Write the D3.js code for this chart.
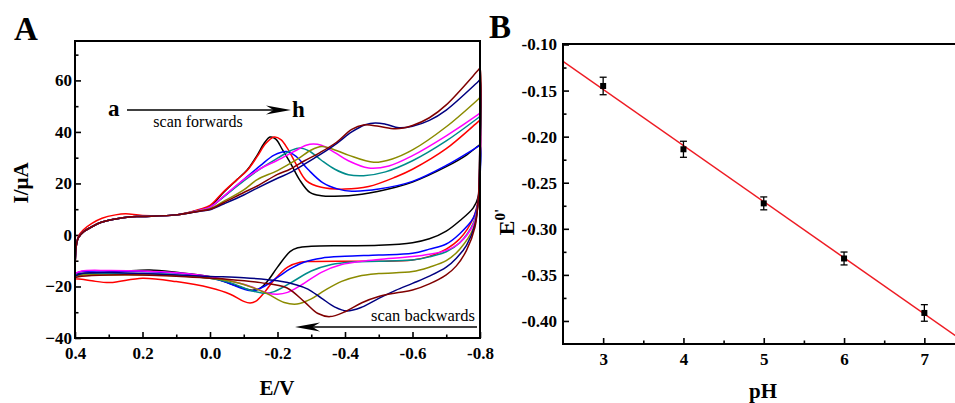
<!DOCTYPE html>
<html>
<head>
<meta charset="utf-8">
<script src="https://cdn.jsdelivr.net/npm/d3@7"></script>
<style>
  body { margin: 0; background: #fff; }
  svg { display: block; font-family: "Liberation Serif", "Times New Roman", serif; }
</style>
</head>
<body>
<script>
// ---- panel A: cyclic voltammograms a..h, each as [E (V), I (uA)] pairs ----
var curveNames = ["a", "b", "c", "d", "e", "f", "g", "h"];
var curveColors = ["#000000", "#ff0000", "#0000ff", "#008b8b", "#ff00ff", "#8b8b00", "#000080", "#800000"];

// forward scan (0.4 -> -0.8)
var fwdA = [[0.4,-15],[0.399,-9],[0.396,-4],[0.39,-1],[0.375,1.2],[0.35,3.2],[0.32,5],[0.28,6.2],[0.24,7],[0.2,7.2],[0.1,7.8],[0.03,9.8],[0.0,11],[-0.04,16.5],[-0.08,21.5],[-0.11,25.2],[-0.14,31],[-0.16,35.5],[-0.178,38],[-0.195,37.2],[-0.215,33],[-0.24,27.5],[-0.265,21.5],[-0.296,16.5],[-0.33,15.2],[-0.37,15],[-0.45,15.8],[-0.55,18.5],[-0.6,20.5],[-0.7,26.5],[-0.76,31],[-0.795,34.6],[-0.8,35]];
var fwdB = [[0.4,-17],[0.399,-10],[0.396,-4],[0.39,-0.5],[0.375,2],[0.35,4.5],[0.32,6.5],[0.28,7.8],[0.25,8.2],[0.2,7.6],[0.1,7.8],[0.03,10],[0.0,11.5],[-0.04,16.8],[-0.08,21.5],[-0.11,25],[-0.14,30.5],[-0.165,35.5],[-0.19,38],[-0.21,37],[-0.23,33.5],[-0.255,27.5],[-0.286,21],[-0.33,18.5],[-0.4,17.8],[-0.47,18.8],[-0.55,22.5],[-0.6,25.5],[-0.7,33.5],[-0.795,44],[-0.8,44.5]];
var fwdC = [[0.4,-15],[0.399,-9],[0.396,-4],[0.39,-1],[0.375,1.2],[0.35,3.2],[0.32,5],[0.28,6.2],[0.24,7],[0.2,7.2],[0.1,7.8],[0.03,9.6],[0.0,10.8],[-0.04,14.8],[-0.1,21.5],[-0.15,27],[-0.19,31],[-0.227,32.4],[-0.255,30.5],[-0.29,25.5],[-0.335,20.2],[-0.38,17.8],[-0.42,17],[-0.5,17.8],[-0.6,20.8],[-0.7,27],[-0.795,34.4],[-0.8,34.8]];
var fwdD = [[0.4,-15.5],[0.399,-9],[0.396,-4],[0.39,-1],[0.375,1.2],[0.35,3.2],[0.32,5],[0.28,6.2],[0.24,7],[0.2,7.2],[0.1,7.8],[0.03,9.6],[0.0,10.8],[-0.04,14.8],[-0.1,21],[-0.15,25.8],[-0.2,29.8],[-0.24,32.8],[-0.267,33.8],[-0.295,32.5],[-0.33,29],[-0.37,25.5],[-0.41,23.4],[-0.455,23],[-0.52,24.5],[-0.6,28.8],[-0.7,36.5],[-0.795,45.5],[-0.8,46]];
var fwdE = [[0.4,-15],[0.399,-9],[0.396,-4],[0.39,-1],[0.375,1.2],[0.35,3.2],[0.32,5],[0.28,6.2],[0.24,7],[0.2,7.2],[0.1,7.8],[0.03,9.6],[0.0,10.8],[-0.04,15],[-0.1,21.5],[-0.15,25.8],[-0.2,29],[-0.25,32.5],[-0.285,34.8],[-0.306,35.3],[-0.33,34.8],[-0.37,32],[-0.41,28.8],[-0.47,26],[-0.53,26.8],[-0.6,30.8],[-0.7,38.5],[-0.795,46.8],[-0.8,47.3]];
var fwdF = [[0.4,-16],[0.399,-9],[0.396,-4],[0.39,-1],[0.375,1.2],[0.35,3.2],[0.32,5],[0.28,6.2],[0.24,7],[0.2,7.2],[0.1,7.8],[0.03,9.4],[0.0,10.2],[-0.04,13],[-0.1,17.5],[-0.14,21.5],[-0.2,25],[-0.26,29.5],[-0.3,33],[-0.331,34.3],[-0.36,33.5],[-0.41,31],[-0.485,28.2],[-0.54,29.5],[-0.6,33],[-0.7,42],[-0.795,52.7],[-0.8,53.3]];
var fwdG = [[0.4,-16],[0.399,-9],[0.396,-4],[0.39,-1],[0.375,1.2],[0.35,3.2],[0.32,5],[0.28,6.2],[0.24,7],[0.2,7.2],[0.1,7.8],[0.03,9.2],[0.0,9.8],[-0.04,12],[-0.1,15.5],[-0.14,18.2],[-0.2,22],[-0.237,24.2],[-0.28,27.5],[-0.326,31.2],[-0.375,35.5],[-0.42,40],[-0.46,42.8],[-0.49,43.5],[-0.52,43],[-0.56,41.6],[-0.6,42.2],[-0.65,44.5],[-0.7,48.5],[-0.795,59.6],[-0.8,60.2]];
var fwdH = [[0.4,-16.5],[0.399,-9],[0.396,-4],[0.39,-1],[0.375,1.2],[0.35,3.2],[0.32,5],[0.28,6.2],[0.24,7],[0.2,7.2],[0.1,7.8],[0.03,9.3],[0.0,10],[-0.04,12.5],[-0.1,16.5],[-0.14,19],[-0.2,23.5],[-0.237,25.5],[-0.28,28.8],[-0.326,32],[-0.375,36],[-0.42,41],[-0.455,42.7],[-0.5,42.2],[-0.55,41.2],[-0.6,42.5],[-0.65,45.5],[-0.7,50.5],[-0.795,64],[-0.8,64.7]];

// backward scan (-0.8 -> 0.4)
var bwdA = [[-0.799,22],[-0.795,15],[-0.78,10.5],[-0.74,5.5],[-0.7,1.5],[-0.65,-1.5],[-0.6,-3],[-0.5,-4],[-0.4,-4.2],[-0.3,-4.4],[-0.26,-5],[-0.237,-6.5],[-0.2,-12.5],[-0.17,-18],[-0.148,-20.7],[-0.125,-21.5],[-0.08,-19.8],[-0.03,-17.5],[0.0,-16.2],[0.1,-14.5],[0.178,-13.6],[0.25,-14],[0.33,-14.8],[0.38,-15],[0.4,-15]];
var bwdB = [[-0.799,24],[-0.795,14],[-0.78,6.5],[-0.74,-1.5],[-0.7,-5.5],[-0.65,-8.3],[-0.6,-9.7],[-0.5,-10.2],[-0.4,-10.2],[-0.3,-10.3],[-0.267,-10.6],[-0.23,-12.5],[-0.19,-17.5],[-0.16,-22.5],[-0.135,-25.8],[-0.119,-26.4],[-0.1,-25.8],[-0.06,-23],[0.0,-20.5],[0.1,-18.1],[0.2,-16.8],[0.296,-18.5],[0.35,-17.8],[0.38,-17.2],[0.4,-17]];
var bwdC = [[-0.799,20],[-0.795,13],[-0.78,6.5],[-0.74,0.5],[-0.7,-3.5],[-0.65,-5.5],[-0.6,-7.1],[-0.5,-7.8],[-0.4,-8.3],[-0.33,-9],[-0.28,-10.5],[-0.24,-13],[-0.2,-16.5],[-0.16,-20],[-0.128,-21.6],[-0.1,-21],[-0.05,-18.5],[0.0,-16.5],[0.1,-14.8],[0.2,-14.2],[0.3,-14],[0.38,-14.2],[0.4,-15]];
var bwdD = [[-0.799,25],[-0.795,13],[-0.78,4.5],[-0.74,-3],[-0.7,-6.5],[-0.65,-8.5],[-0.6,-9.7],[-0.5,-10.2],[-0.42,-10.5],[-0.36,-11.5],[-0.3,-14],[-0.24,-18.5],[-0.19,-22],[-0.159,-22.6],[-0.12,-21.5],[-0.06,-18.5],[0.0,-16.8],[0.1,-15.5],[0.2,-15],[0.3,-15],[0.38,-15.2],[0.4,-15.5]];
var bwdE = [[-0.799,25],[-0.795,13],[-0.78,4],[-0.74,-3],[-0.7,-6],[-0.65,-7.5],[-0.6,-8.4],[-0.5,-9.5],[-0.45,-10.2],[-0.39,-11.5],[-0.33,-14.5],[-0.27,-19.5],[-0.23,-22.3],[-0.2,-23],[-0.17,-22.5],[-0.12,-20],[-0.05,-17.5],[0.0,-16.2],[0.1,-14.7],[0.2,-14],[0.3,-13.8],[0.38,-14],[0.4,-15]];
var bwdF = [[-0.799,28],[-0.795,13],[-0.78,2.5],[-0.74,-5.5],[-0.7,-10],[-0.65,-12.5],[-0.6,-14.2],[-0.5,-15],[-0.44,-16],[-0.39,-18],[-0.34,-21.5],[-0.3,-24.8],[-0.258,-26.8],[-0.22,-26.2],[-0.17,-22.8],[-0.1,-19.2],[-0.05,-17.7],[0.0,-16.8],[0.1,-15.8],[0.2,-15.5],[0.3,-15.5],[0.38,-15.6],[0.4,-16]];
var bwdG = [[-0.799,30],[-0.795,14],[-0.785,4],[-0.76,-4],[-0.73,-9],[-0.7,-12.5],[-0.65,-16],[-0.6,-18.8],[-0.55,-21.5],[-0.5,-24.6],[-0.45,-28],[-0.405,-29.5],[-0.37,-28],[-0.33,-24.5],[-0.29,-21],[-0.257,-19.4],[-0.2,-17.8],[-0.1,-16.6],[0.0,-16.1],[0.1,-15.5],[0.2,-15],[0.3,-14.6],[0.38,-15],[0.4,-16]];
var bwdH = [[-0.799,32],[-0.795,14],[-0.785,3],[-0.76,-6],[-0.73,-12],[-0.7,-15.5],[-0.65,-19],[-0.6,-21.4],[-0.55,-22.5],[-0.5,-23.9],[-0.45,-26.3],[-0.4,-29.8],[-0.355,-31.7],[-0.32,-30.5],[-0.28,-26],[-0.227,-20.5],[-0.15,-18.5],[-0.05,-17.2],[0.0,-16.8],[0.1,-16],[0.2,-15.5],[0.3,-15.5],[0.38,-16],[0.4,-16.5]];

var forwardScans = [fwdA, fwdB, fwdC, fwdD, fwdE, fwdF, fwdG, fwdH];
var backwardScans = [bwdA, bwdB, bwdC, bwdD, bwdE, bwdF, bwdG, bwdH];

// panel A ticks
var aXTicks = [0.4, 0.2, 0.0, -0.2, -0.4, -0.6, -0.8];
var aXMinor = [0.3, 0.1, -0.1, -0.3, -0.5, -0.7];
var aYTicks = [-40, -20, 0, 20, 40, 60];
var aYMinor = [-30, -10, 10, 30, 50, 70];

// ---- panel B: formal potential vs pH ----
var phValues = [3, 4, 5, 6, 7];
var e0Values = [-0.145, -0.2137, -0.2724, -0.3322, -0.3913];
var e0Errors = [0.0095, 0.0087, 0.007, 0.007, 0.009];
var fitX = [2.5, 7.5];
var fitY = [-0.1183, -0.4228];

var bXTicks = [3, 4, 5, 6, 7];
var bXMinor = [3.5, 4.5, 5.5, 6.5, 7.5];
var bYTicks = [-0.40, -0.35, -0.30, -0.25, -0.20, -0.15, -0.10];
var bYMinor = [-0.375, -0.325, -0.275, -0.225, -0.175, -0.125];

window.onload = setChart();

function setChart() {
    var width = 955,
        height = 403;

    var svg = d3.select("body")
        .append("svg")
        .attr("width", width)
        .attr("height", height);

    drawPanelA(svg);
    drawPanelB(svg);
}

// inward ticks with labels, plus short minor ticks
function styleAxis(g, size) {
    g.select(".domain").remove();
    g.selectAll(".tick line").attr("stroke", "#000").attr("stroke-width", 1.6);
    g.selectAll(".tick text")
        .attr("fill", "#000")
        .attr("font-size", size)
        .attr("font-weight", "bold")
        .attr("font-family", "'Liberation Serif', 'Times New Roman', serif");
}

function drawPanelA(svg) {
    var left = 75, right = 480, top = 41, bottom = 338;

    var x = d3.scaleLinear().domain([0.4, -0.8]).range([left, right]);
    var y = d3.scaleLinear().domain([-40, 75.3]).range([bottom, top]);

    var g = svg.append("g").attr("class", "panelA");

    // axes
    g.append("g")
        .attr("transform", "translate(0," + bottom + ")")
        .call(d3.axisBottom(x).tickValues(aXTicks).tickSizeInner(-6).tickSizeOuter(0).tickPadding(9)
            .tickFormat(function(d){ return d.toFixed(1); }))
        .call(styleAxis, 17);
    g.append("g")
        .attr("transform", "translate(0," + bottom + ")")
        .call(d3.axisBottom(x).tickValues(aXMinor).tickSizeInner(-3.5).tickSizeOuter(0).tickFormat(""))
        .call(styleAxis, 17);
    g.append("g")
        .attr("transform", "translate(" + left + ",0)")
        .call(d3.axisLeft(y).tickValues(aYTicks).tickSizeInner(-6).tickSizeOuter(0).tickPadding(3))
        .call(styleAxis, 17);
    g.append("g")
        .attr("transform", "translate(" + left + ",0)")
        .call(d3.axisLeft(y).tickValues(aYMinor).tickSizeInner(-3.5).tickSizeOuter(0).tickFormat(""))
        .call(styleAxis, 17);

    // curves
    var line = d3.line()
        .x(function(d){ return x(d[0]); })
        .y(function(d){ return y(d[1]); })
        .curve(d3.curveCatmullRom.alpha(0.5));

    var loops = forwardScans.map(function(f, i){
        return { name: curveNames[i], color: curveColors[i], pts: f.concat(backwardScans[i]) };
    });

    g.selectAll(".cv")
        .data(loops)
        .enter()
        .append("path")
        .attr("class", function(d){ return "cv " + d.name; })
        .attr("d", function(d){ return line(d.pts); })
        .attr("fill", "none")
        .attr("stroke", function(d){ return d.color; })
        .attr("stroke-width", 1.5);

    // frame
    g.append("rect")
        .attr("x", left).attr("y", top)
        .attr("width", right - left).attr("height", bottom - top)
        .attr("fill", "none").attr("stroke", "#000").attr("stroke-width", 2);

    // annotations
    g.append("text").attr("x", 108).attr("y", 116)
        .attr("font-size", 23).attr("font-weight", "bold").text("a");
    g.append("text").attr("x", 292).attr("y", 117)
        .attr("font-size", 23).attr("font-weight", "bold").text("h");
    arrow(g, 127, 291, 110);
    g.append("text").attr("x", 198).attr("y", 127)
        .attr("font-size", 16).attr("text-anchor", "middle").text("scan forwards");

    g.append("text").attr("x", 475).attr("y", 321)
        .attr("font-size", 16.5).attr("text-anchor", "end").text("scan backwards");
    arrow(g, 477, 295, 327);

    // labels
    g.append("text").attr("x", 277).attr("y", 395)
        .attr("font-size", 21).attr("font-weight", "bold").attr("text-anchor", "middle").text("E/V");
    g.append("text")
        .attr("transform", "translate(28,183) rotate(-90)")
        .attr("font-size", 21).attr("font-weight", "bold").attr("text-anchor", "middle").text("I/\u03bcA");
    g.append("text").attr("x", 14).attr("y", 40)
        .attr("font-size", 33).attr("font-weight", "bold").text("A");
}

// straight arrow with stealth head pointing at x1
function arrow(g, x0, x1, yy) {
    var dir = x1 > x0 ? 1 : -1,
        L = 25, w = 4.5;
    g.append("line")
        .attr("x1", x0).attr("y1", yy)
        .attr("x2", x1 - dir * L * 0.6).attr("y2", yy)
        .attr("stroke", "#000").attr("stroke-width", 1.5);
    g.append("path")
        .attr("d", "M" + x1 + "," + yy +
            "L" + (x1 - dir * L) + "," + (yy - w) +
            "L" + (x1 - dir * L * 0.7) + "," + yy +
            "L" + (x1 - dir * L) + "," + (yy + w) + "Z")
        .attr("fill", "#000");
}

function drawPanelB(svg) {
    var left = 563, right = 964.5, top = 44, bottom = 344;

    var x = d3.scaleLinear().domain([2.5, 7.5]).range([left, right]);
    var y = d3.scaleLinear().domain([-0.425, -0.1]).range([bottom, top + 0.5]);

    var g = svg.append("g").attr("class", "panelB");

    g.append("clipPath").attr("id", "clipB")
        .append("rect").attr("x", left).attr("y", top)
        .attr("width", right - left).attr("height", bottom - top);

    g.append("g")
        .attr("transform", "translate(0," + bottom + ")")
        .call(d3.axisBottom(x).tickValues(bXTicks).tickSizeInner(-6).tickSizeOuter(0).tickPadding(9)
            .tickFormat(d3.format("d")))
        .call(styleAxis, 17);
    g.append("g")
        .attr("transform", "translate(0," + bottom + ")")
        .call(d3.axisBottom(x).tickValues(bXMinor).tickSizeInner(-3.5).tickSizeOuter(0).tickFormat(""))
        .call(styleAxis, 17);
    g.append("g")
        .attr("transform", "translate(" + left + ",0)")
        .call(d3.axisLeft(y).tickValues(bYTicks).tickSizeInner(-6).tickSizeOuter(0).tickPadding(6)
            .tickFormat(function(d){ return d.toFixed(2); }))
        .call(styleAxis, 17);
    g.append("g")
        .attr("transform", "translate(" + left + ",0)")
        .call(d3.axisLeft(y).tickValues(bYMinor).tickSizeInner(-3.5).tickSizeOuter(0).tickFormat(""))
        .call(styleAxis, 17);

    // linear fit
    var fit = fitX.map(function(v, i){ return [v, fitY[i]]; });
    g.append("path")
        .attr("clip-path", "url(#clipB)")
        .attr("d", d3.line().x(function(d){ return x(d[0]); }).y(function(d){ return y(d[1]); })(fit))
        .attr("fill", "none").attr("stroke", "#ee1c24").attr("stroke-width", 1.5);

    // points with error bars
    var pts = phValues.map(function(p, i){ return { ph: p, e: e0Values[i], err: e0Errors[i] }; });
    var pg = g.selectAll(".pt").data(pts).enter().append("g").attr("class", "pt");
    pg.append("line")
        .attr("x1", function(d){ return x(d.ph); }).attr("x2", function(d){ return x(d.ph); })
        .attr("y1", function(d){ return y(d.e + d.err); }).attr("y2", function(d){ return y(d.e - d.err); })
        .attr("stroke", "#000").attr("stroke-width", 1.3);
    [1, -1].forEach(function(s){
        pg.append("line")
            .attr("x1", function(d){ return x(d.ph) - 3.5; }).attr("x2", function(d){ return x(d.ph) + 3.5; })
            .attr("y1", function(d){ return y(d.e + s * d.err); }).attr("y2", function(d){ return y(d.e + s * d.err); })
            .attr("stroke", "#000").attr("stroke-width", 1.3);
    });
    pg.append("rect")
        .attr("x", function(d){ return x(d.ph) - 3; }).attr("y", function(d){ return y(d.e) - 3; })
        .attr("width", 6).attr("height", 6).attr("fill", "#000");

    // frame (right side falls outside the picture)
    g.append("rect")
        .attr("x", left).attr("y", top)
        .attr("width", right - left).attr("height", bottom - top)
        .attr("fill", "none").attr("stroke", "#000").attr("stroke-width", 2);

    // labels
    g.append("text").attr("x", 763).attr("y", 398)
        .attr("font-size", 21).attr("font-weight", "bold").attr("text-anchor", "middle").text("pH");
    var yl = g.append("text")
        .attr("transform", "translate(514,222) rotate(-90)")
        .attr("font-size", 22).attr("font-weight", "bold").attr("text-anchor", "middle");
    yl.append("tspan").text("E");
    yl.append("tspan").attr("font-size", 15).attr("dy", -9).text("0'");
    g.append("text").attr("x", 489).attr("y", 38)
        .attr("font-size", 33).attr("font-weight", "bold").text("B");
}
</script>
</body>
</html>
